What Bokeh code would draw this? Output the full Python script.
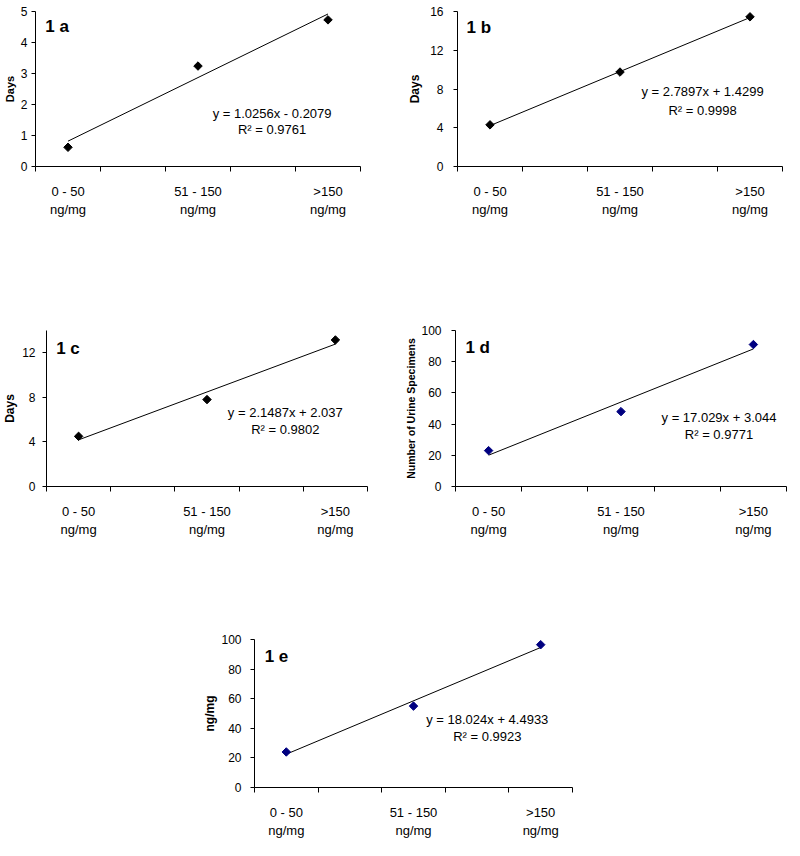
import numpy as np
from bokeh.plotting import figure
from bokeh.models import Range1d, FixedTicker, Label, Spacer
from bokeh.layouts import row, column
from bokeh.embed import file_html
from bokeh.resources import INLINE

# ---- data ----
x_pos = [1, 3, 5]                      # category slots used (slots 2 and 4 are empty)
cat_labels = ["0 - 50\nng/mg", "51 - 150\nng/mg", ">150\nng/mg"]
slot_edges = [0.5, 1.5, 2.5, 3.5, 4.5, 5.5]

days_a = [0.62, 3.24, 4.73]
days_b = [4.3, 9.75, 15.45]
days_c = [4.5, 7.8, 13.15]
specimens_d = [23, 48, 91]
conc_e = [24, 55, 96.5]

trend_a = (1.0256, -0.2079)
trend_b = (2.7897, 1.4299)
trend_c = (2.1487, 2.037)
trend_d = (17.029, 3.044)
trend_e = (18.024, 4.4933)

eq_a = ["y = 1.0256x - 0.2079", "R² = 0.9761"]
eq_b = ["y = 2.7897x + 1.4299", "R² = 0.9998"]
eq_c = ["y = 2.1487x + 2.037", "R² = 0.9802"]
eq_d = ["y = 17.029x + 3.044", "R² = 0.9771"]
eq_e = ["y = 18.024x + 4.4933", "R² = 0.9923"]

ticks_a = [0, 1, 2, 3, 4, 5]
ticks_b = [0, 4, 8, 12, 16]
ticks_c = [0, 4, 8, 12]
ticks_d = [0, 20, 40, 60, 80, 100]
ticks_e = [0, 20, 40, 60, 80, 100]

FONT = "Liberation Sans"


def panel(values, trend, eq, ticks, ymax, ylabel, tag, color,
          size, borders, eq_pos, tag_pos, ylabel_size="12px",
          tick_standoff=4, label_standoff=2):
    w, h = size
    bl, br, bt, bb = borders
    p = figure(width=w, height=h, output_backend="svg", toolbar_location=None,
               x_range=Range1d(0.5, 5.5), y_range=Range1d(0, ymax),
               min_border_left=bl, min_border_right=br,
               min_border_top=bt, min_border_bottom=bb)
    p.outline_line_color = None
    p.grid.visible = False
    p.background_fill_color = "white"
    p.border_fill_color = "white"

    # x axis: tick marks between category slots, labels at used slots
    xa = p.xaxis[0]
    xa.ticker = FixedTicker(ticks=x_pos, minor_ticks=slot_edges)
    xa.major_label_overrides = {x: lab for x, lab in zip(x_pos, cat_labels)}
    xa.major_tick_out = 0
    xa.major_tick_in = 0
    xa.minor_tick_out = 5
    xa.minor_tick_in = 0
    xa.minor_tick_line_color = "black"
    xa.axis_line_color = "black"
    xa.major_label_text_font = FONT
    xa.major_label_text_font_size = "13px"
    xa.major_label_text_color = "black"
    xa.major_label_standoff = 12

    ya = p.yaxis[0]
    ya.ticker = FixedTicker(ticks=ticks)
    ya.minor_tick_line_color = None
    ya.major_tick_out = 4
    ya.major_tick_in = 0
    ya.major_tick_line_color = "black"
    ya.axis_line_color = "black"
    ya.major_label_text_font = FONT
    ya.major_label_text_font_size = "12px"
    ya.major_label_text_color = "black"
    ya.major_label_standoff = tick_standoff
    ya.axis_label = ylabel
    ya.axis_label_text_font = FONT
    ya.axis_label_text_font_style = "bold"
    ya.axis_label_text_font_size = ylabel_size
    ya.axis_label_text_color = "black"
    ya.axis_label_standoff = label_standoff

    m, c = trend
    xs = [x_pos[0], x_pos[-1]]
    p.line(xs, [m * xs[0] + c, m * xs[1] + c], line_color="black", line_width=1)
    p.scatter(x_pos, values, marker="square", angle=np.pi / 4, size=6,
              fill_color=color, line_color=color)

    ex, ey1, ey2 = eq_pos
    p.add_layout(Label(x=ex, y=ey1, text=eq[0], text_font=FONT, text_font_size="13px",
                       text_align="center", text_baseline="middle", text_color="black"))
    p.add_layout(Label(x=ex, y=ey2, text=eq[1], text_font=FONT, text_font_size="13px",
                       text_align="center", text_baseline="middle", text_color="black"))
    tx, ty = tag_pos
    p.add_layout(Label(x=tx, y=ty, text=tag, text_font=FONT, text_font_size="17px",
                       text_font_style="bold", text_align="left", text_baseline="middle",
                       text_color="black"))
    return p


pa = panel(days_a, trend_a, eq_a, ticks_a, 5, "Days", "1 a", "black",
           (392, 282), (28, 32, 5, 116), (4.14, 1.71, 1.18), (0.65, 4.53),
           ylabel_size="11px", tick_standoff=4, label_standoff=2)
pb = panel(days_b, trend_b, eq_b, ticks_b, 16, "Days", "1 b", "black",
           (392, 282), (65, 2, 11, 114), (4.27, 7.72, 5.83), (0.64, 14.3),
           ylabel_size="12px", tick_standoff=10, label_standoff=5)
pc = panel(days_c, trend_c, eq_c, ticks_c, 14, "Days", "1 c", "black",
           (392, 290), (36, 25, 41, 86), (4.22, 6.66, 5.11), (0.65, 12.34),
           ylabel_size="12px", tick_standoff=7, label_standoff=2)
pd_ = panel(specimens_d, trend_d, eq_d, ticks_d, 100, "Number of Urine Specimens", "1 d",
            "#000080", (396, 290), (63, 2, 48, 84), (4.48, 44.3, 33.3), (0.65, 88.8),
            ylabel_size="10.5px", tick_standoff=10, label_standoff=1)
pe = panel(conc_e, trend_e, eq_e, ticks_e, 100, "ng/mg", "1 e", "#000080",
           (392, 268), (45, 20, 67, 41), (4.16, 46.0, 34.4), (0.66, 88.6),
           ylabel_size="12px", tick_standoff=9, label_standoff=1)

layout = column(row(pa, pb), row(pc, pd_), row(Spacer(width=200, height=268), pe))

with open("out.html", "w") as f:
    f.write(file_html(layout, INLINE))
